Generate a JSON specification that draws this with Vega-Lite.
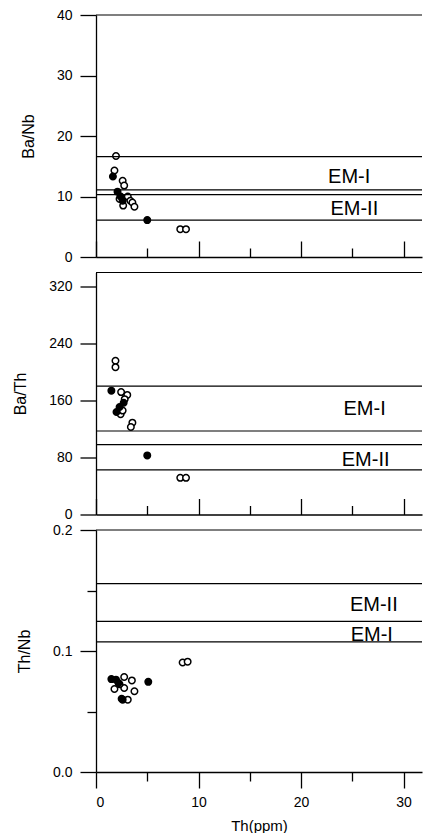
{
  "$schema": "https://vega.github.io/schema/vega-lite/v6.json",
  "padding": {"left": 12, "top": 8, "right": 0, "bottom": 0},
  "bounds": "flush",
  "spacing": 15.5,
  "config": {
    "view": {"stroke": null},
    "font": "Liberation Sans",
    "axis": {
      "grid": false,
      "domainColor": "black",
      "domainWidth": 1.3,
      "tickColor": "black",
      "tickWidth": 1.3,
      "labelColor": "black",
      "titleColor": "black",
      "labelFont": "Liberation Sans",
      "titleFont": "Liberation Sans",
      "labelFontSize": 14,
      "titleFontSize": 16,
      "titleFontWeight": "normal"
    }
  },
  "datasets": {
    "pts": [
      {"panel": "banb", "type": "open", "th": 1.95, "v": 16.7},
      {"panel": "banb", "type": "open", "th": 1.8, "v": 14.3},
      {"panel": "banb", "type": "open", "th": 2.6, "v": 12.6},
      {"panel": "banb", "type": "open", "th": 2.75, "v": 11.8},
      {"panel": "banb", "type": "open", "th": 3.1, "v": 10.0},
      {"panel": "banb", "type": "open", "th": 3.35, "v": 9.3},
      {"panel": "banb", "type": "open", "th": 3.55, "v": 9.0},
      {"panel": "banb", "type": "open", "th": 2.65, "v": 8.5},
      {"panel": "banb", "type": "open", "th": 3.75, "v": 8.3},
      {"panel": "banb", "type": "open", "th": 2.3, "v": 9.6},
      {"panel": "banb", "type": "open", "th": 8.22, "v": 4.6},
      {"panel": "banb", "type": "open", "th": 8.78, "v": 4.6},
      {"panel": "banb", "type": "filled", "th": 1.65, "v": 13.3},
      {"panel": "banb", "type": "filled", "th": 2.1, "v": 10.8},
      {"panel": "banb", "type": "filled", "th": 2.4, "v": 10.0},
      {"panel": "banb", "type": "filled", "th": 2.6, "v": 9.3},
      {"panel": "banb", "type": "filled", "th": 5.0, "v": 6.1},
      {"panel": "bath", "type": "open", "th": 1.9, "v": 216},
      {"panel": "bath", "type": "open", "th": 1.9, "v": 207},
      {"panel": "bath", "type": "open", "th": 2.45, "v": 172},
      {"panel": "bath", "type": "open", "th": 3.05, "v": 168},
      {"panel": "bath", "type": "open", "th": 2.8, "v": 162},
      {"panel": "bath", "type": "open", "th": 2.4, "v": 141},
      {"panel": "bath", "type": "open", "th": 2.6, "v": 146},
      {"panel": "bath", "type": "open", "th": 3.55, "v": 129},
      {"panel": "bath", "type": "open", "th": 3.4, "v": 123},
      {"panel": "bath", "type": "open", "th": 8.22, "v": 51.5},
      {"panel": "bath", "type": "open", "th": 8.78, "v": 51.5},
      {"panel": "bath", "type": "filled", "th": 1.5, "v": 174},
      {"panel": "bath", "type": "filled", "th": 2.3, "v": 151},
      {"panel": "bath", "type": "filled", "th": 2.0, "v": 144},
      {"panel": "bath", "type": "filled", "th": 2.7, "v": 157},
      {"panel": "bath", "type": "filled", "th": 5.0, "v": 83},
      {"panel": "thnb", "type": "open", "th": 2.75, "v": 0.0785},
      {"panel": "thnb", "type": "open", "th": 3.5, "v": 0.0757},
      {"panel": "thnb", "type": "open", "th": 1.8, "v": 0.0686},
      {"panel": "thnb", "type": "open", "th": 2.75, "v": 0.0694},
      {"panel": "thnb", "type": "open", "th": 3.75, "v": 0.0667},
      {"panel": "thnb", "type": "open", "th": 3.1, "v": 0.0598},
      {"panel": "thnb", "type": "open", "th": 2.3, "v": 0.0725},
      {"panel": "thnb", "type": "open", "th": 8.45, "v": 0.0905},
      {"panel": "thnb", "type": "open", "th": 8.94, "v": 0.0912},
      {"panel": "thnb", "type": "filled", "th": 1.5, "v": 0.0768},
      {"panel": "thnb", "type": "filled", "th": 1.95, "v": 0.0763},
      {"panel": "thnb", "type": "filled", "th": 2.6, "v": 0.0598},
      {"panel": "thnb", "type": "filled", "th": 2.5, "v": 0.0605},
      {"panel": "thnb", "type": "filled", "th": 2.2, "v": 0.0735},
      {"panel": "thnb", "type": "filled", "th": 5.1, "v": 0.0745}
    ],
    "lines": [
      {"panel": "banb", "v": 40},
      {"panel": "banb", "v": 16.6},
      {"panel": "banb", "v": 11.1},
      {"panel": "banb", "v": 10.3},
      {"panel": "banb", "v": 6.1},
      {"panel": "bath", "v": 340},
      {"panel": "bath", "v": 180.4},
      {"panel": "bath", "v": 117.3},
      {"panel": "bath", "v": 98.1},
      {"panel": "bath", "v": 62.6},
      {"panel": "thnb", "v": 0.2},
      {"panel": "thnb", "v": 0.1556},
      {"panel": "thnb", "v": 0.1245},
      {"panel": "thnb", "v": 0.1075}
    ],
    "labels": [
      {"panel": "banb", "label": "EM-I", "th": 24.7, "v": 13.3},
      {"panel": "banb", "label": "EM-II", "th": 25.2, "v": 8.0},
      {"panel": "bath", "label": "EM-I", "th": 26.2, "v": 147.6},
      {"panel": "bath", "label": "EM-II", "th": 26.3, "v": 76.1},
      {"panel": "thnb", "label": "EM-II", "th": 27.1, "v": 0.1377},
      {"panel": "thnb", "label": "EM-I", "th": 26.9, "v": 0.113}
    ]
  },
  "vconcat": [
    {
      "width": 326, "height": 242,
      "layer": [
        {
          "data": {"name": "pts"},
          "transform": [{"filter": "datum.panel === 'banb'"}],
          "mark": {"type": "point", "shape": "circle", "size": 42, "stroke": "black", "strokeWidth": 1.5, "opacity": 1},
          "encoding": {
            "x": {"field": "th", "type": "quantitative", "scale": {"domain": [0, 31.8], "nice": false},
              "axis": {"values": [0, 5, 10, 15, 20, 25, 30], "labels": false, "title": null,
                "tickSize": {"condition": {"test": "datum.value % 10 === 0", "value": -16}, "value": -9}}},
            "y": {"field": "v", "type": "quantitative", "scale": {"domain": [0, 40], "nice": false},
              "axis": {"title": "Ba/Nb", "titlePadding": 20, "values": [0, 5, 10, 15, 20, 25, 30, 35, 40], "labelPadding": 8,
                "labelExpr": "datum.value % 10 === 0 ? datum.label : ''",
                "tickSize": {"condition": {"test": "datum.value % 10 === 0", "value": 16}, "value": 9}}},
            "fill": {"field": "type", "type": "nominal", "scale": {"domain": ["open", "filled"], "range": ["white", "black"]}, "legend": null}
          }
        },
        {
          "data": {"name": "lines"},
          "transform": [{"filter": "datum.panel === 'banb'"}],
          "mark": {"type": "rule", "color": "black", "strokeWidth": 1.2},
          "encoding": {"y": {"field": "v", "type": "quantitative"}}
        },
        {
          "data": {"name": "labels"},
          "transform": [{"filter": "datum.panel === 'banb'"}],
          "mark": {"type": "text", "fontSize": 20, "font": "Liberation Sans", "color": "black", "baseline": "middle", "align": "center"},
          "encoding": {
            "x": {"field": "th", "type": "quantitative"},
            "y": {"field": "v", "type": "quantitative"},
            "text": {"field": "label"}
          }
        }
      ]
    },
    {
      "width": 326, "height": 242,
      "layer": [
        {
          "data": {"name": "pts"},
          "transform": [{"filter": "datum.panel === 'bath'"}],
          "mark": {"type": "point", "shape": "circle", "size": 42, "stroke": "black", "strokeWidth": 1.5, "opacity": 1},
          "encoding": {
            "x": {"field": "th", "type": "quantitative", "scale": {"domain": [0, 31.8], "nice": false},
              "axis": {"values": [0, 5, 10, 15, 20, 25, 30], "labels": false, "title": null,
                "tickSize": {"condition": {"test": "datum.value % 10 === 0", "value": -16}, "value": -9}}},
            "y": {"field": "v", "type": "quantitative", "scale": {"domain": [0, 340], "nice": false},
              "axis": {"title": "Ba/Th", "titlePadding": 20, "values": [0, 20, 40, 60, 80, 100, 120, 140, 160, 180, 200, 220, 240, 260, 280, 300, 320, 340], "labelPadding": 8,
                "labelExpr": "datum.value % 80 === 0 ? datum.label : ''",
                "tickSize": {"condition": {"test": "datum.value % 80 === 0", "value": 16}, "value": 9}}},
            "fill": {"field": "type", "type": "nominal", "scale": {"domain": ["open", "filled"], "range": ["white", "black"]}, "legend": null}
          }
        },
        {
          "data": {"name": "lines"},
          "transform": [{"filter": "datum.panel === 'bath'"}],
          "mark": {"type": "rule", "color": "black", "strokeWidth": 1.2},
          "encoding": {"y": {"field": "v", "type": "quantitative"}}
        },
        {
          "data": {"name": "labels"},
          "transform": [{"filter": "datum.panel === 'bath'"}],
          "mark": {"type": "text", "fontSize": 20, "font": "Liberation Sans", "color": "black", "baseline": "middle", "align": "center"},
          "encoding": {
            "x": {"field": "th", "type": "quantitative"},
            "y": {"field": "v", "type": "quantitative"},
            "text": {"field": "label"}
          }
        }
      ]
    },
    {
      "width": 326, "height": 242,
      "layer": [
        {
          "data": {"name": "pts"},
          "transform": [{"filter": "datum.panel === 'thnb'"}],
          "mark": {"type": "point", "shape": "circle", "size": 42, "stroke": "black", "strokeWidth": 1.5, "opacity": 1},
          "encoding": {
            "x": {"field": "th", "type": "quantitative", "scale": {"domain": [0, 31.8], "nice": false},
              "axis": {"values": [0, 5, 10, 15, 20, 25, 30], "title": "Th(ppm)", "labelPadding": 7, "titlePadding": 9, "titleFontSize": 15,
                "labelExpr": "datum.value % 10 === 0 ? datum.label : ''",
                "tickSize": {"condition": {"test": "datum.value % 10 === 0", "value": 16}, "value": 9}}},
            "y": {"field": "v", "type": "quantitative", "scale": {"domain": [0, 0.2], "nice": false},
              "axis": {"title": "Th/Nb", "titlePadding": 20, "values": [0, 0.05, 0.1, 0.15, 0.2], "labelPadding": 8, "format": ".1f",
                "labelExpr": "abs(datum.value * 10 - round(datum.value * 10)) < 0.000001 ? datum.label : ''",
                "tickSize": {"condition": {"test": "abs(datum.value * 10 - round(datum.value * 10)) < 0.000001", "value": 16}, "value": 9}}},
            "fill": {"field": "type", "type": "nominal", "scale": {"domain": ["open", "filled"], "range": ["white", "black"]}, "legend": null}
          }
        },
        {
          "data": {"name": "lines"},
          "transform": [{"filter": "datum.panel === 'thnb'"}],
          "mark": {"type": "rule", "color": "black", "strokeWidth": 1.2},
          "encoding": {"y": {"field": "v", "type": "quantitative"}}
        },
        {
          "data": {"name": "labels"},
          "transform": [{"filter": "datum.panel === 'thnb'"}],
          "mark": {"type": "text", "fontSize": 20, "font": "Liberation Sans", "color": "black", "baseline": "middle", "align": "center"},
          "encoding": {
            "x": {"field": "th", "type": "quantitative"},
            "y": {"field": "v", "type": "quantitative"},
            "text": {"field": "label"}
          }
        }
      ]
    }
  ]
}
